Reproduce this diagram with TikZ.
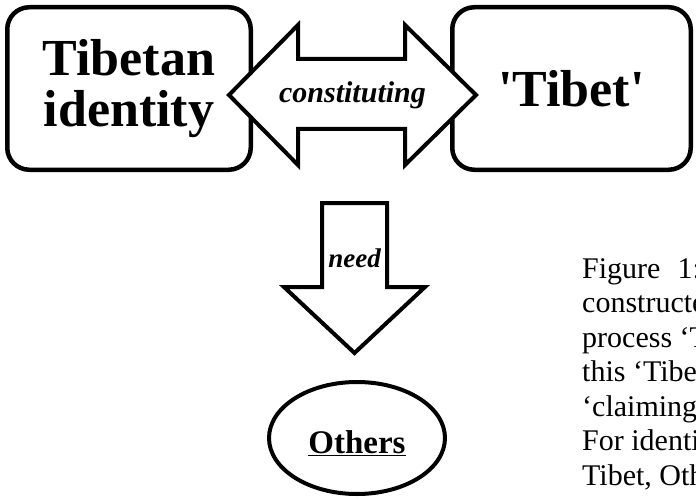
\documentclass[tikz,border=0pt]{standalone}
\usepackage{fontspec}
\setmainfont{Liberation Serif}
\usetikzlibrary{shapes.geometric}

\begin{document}
\begin{tikzpicture}[x=1pt, y=-1pt,
  box/.style={draw, line width=4.5pt, rounded corners=22pt, minimum height=162.5pt, align=center, font=\fontsize{52}{51}\selectfont\bfseries},
  blockarrow/.style={draw, line width=4pt, fill=white},
  label/.style={font=\fontsize{30}{30}\selectfont\bfseries\itshape},
  captionline/.style={anchor=base west, inner sep=0pt, font=\fontsize{30}{34}\selectfont}]
\useasboundingbox (0,0) rectangle (696,500);
\clip (0,0) rectangle (696,500);

% Boxes
\node[box, minimum width=243.5pt] (tibid) at (129,88.5) {Tibetan\\identity};
\node[box, minimum width=238.5pt] (tibet) at (571.5,88.5) {\textquotesingle Tibet\textquotesingle};

% Double arrow between the boxes
\draw[blockarrow] (229,95) -- (298,25) -- (298,59) -- (405,59) -- (405,25) -- (476,95)
  -- (405,165) -- (405,129) -- (298,129) -- (298,165) -- cycle;
\node[label] (constit) at (352.5,95) {constituting};

% Down arrow
\draw[blockarrow] (322,203) -- (387,203) -- (387,287) -- (425,287) -- (354.5,353)
  -- (284,287) -- (322,287) -- cycle;
\node[label, font=\fontsize{27}{27}\selectfont\bfseries\itshape] (need) at (354.5,258) {need};

% Others
\node[draw, ellipse, line width=4pt, minimum width=176pt, minimum height=112pt,
  text height=30pt, text depth=0pt, font=\fontsize{33}{33}\selectfont\bfseries] (others) at (357,438) {\underline{Others}};

% Caption, cut off at the right edge as in the figure
\foreach \i/\txt in {1/{Figure\hspace{17pt}1:}, 2/{constructe}, 3/{process `T},
    4/{this `Tibe}, 5/{`claiming}, 6/{For identi}, 7/{Tibet, Oth}} {
  \node[captionline] (line\i) at (582,{243.5+34.5*\i}) {\txt};
}
\end{tikzpicture}
\end{document}
